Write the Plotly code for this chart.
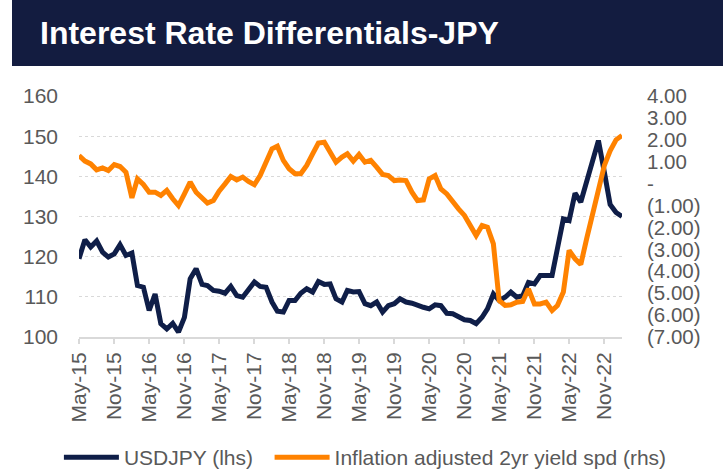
import pandas as pd
import plotly.graph_objects as go

# ---- data ----
start_month = "2015-05-01"
usdjpy = [119.5, 124.2, 122.4, 123.9, 121.1, 119.9, 120.7, 123.0, 120.3, 120.9,
          112.8, 112.4, 106.6, 110.7, 103.3, 102.0, 103.4, 101.2, 104.9, 114.5,
          117.0, 113.1, 112.8, 111.6, 111.4, 110.9, 112.6, 110.3, 109.9, 112.0,
          113.7, 112.6, 112.4, 108.7, 106.4, 106.2, 109.1, 109.1, 110.9, 112.0,
          111.2, 113.8, 113.1, 113.2, 109.5, 108.7, 111.6, 111.2, 111.3, 108.3,
          107.8, 108.7, 106.2, 107.8,
          108.3, 109.5, 108.7, 108.4, 107.8, 107.4, 107.0, 108.0, 107.8, 105.9,
          105.8, 104.9, 104.3, 104.1, 103.3, 104.9, 107.0, 110.7, 109.1, 109.9,
          111.2, 109.9, 110.3, 113.6, 113.2, 115.3, 115.3, 115.3, 122.0, 129.4,
          129.0, 135.8, 133.6, 139.0, 144.8, 148.9, 141.0, 133.0, 131.0, 130.0]
spread = [1.28, 1.03, 0.90, 0.63, 0.72, 0.60, 0.87, 0.78, 0.52, -0.65,
          0.22, -0.04, -0.39, -0.39, -0.54, -0.31, -0.69, -1.00, -0.47, 0.07,
          -0.39, -0.69, -0.89, -0.77, -0.34, -0.01, 0.33, 0.17, 0.30, 0.10,
          -0.05, 0.37, 0.98, 1.59, 1.71, 1.06, 0.68, 0.45, 0.45, 0.83,
          1.36, 1.85, 1.89, 1.44, 0.98, 1.21, 1.36, 1.03, 1.33, 0.98,
          1.06, 0.75, 0.42, 0.37,
          0.14, 0.17, 0.14, -0.39, -0.77, -0.74, 0.22, 0.37, -0.24, -0.47,
          -0.85, -1.15, -1.45, -1.91, -2.37, -1.91, -1.99, -2.75, -5.33, -5.56,
          -5.53, -5.41, -5.38, -4.80, -5.49, -5.49, -5.41, -5.79, -5.56, -4.95,
          -3.05, -3.43, -3.69, -2.50, -1.30, -0.20, 0.83, 1.50, 2.00, 2.20]
dates = pd.date_range(start_month, periods=len(usdjpy), freq="MS")

x_tick_dates = pd.date_range("2015-05-01", "2022-11-01", freq="6MS")
x_tick_labels = [d.strftime("%b-%y") for d in x_tick_dates]
left_ticks = [100, 110, 120, 130, 140, 150, 160]
right_ticks = list(range(-7, 5))
right_labels = [("-" if v == 0 else (f"({abs(v):.2f})" if v < 0 else f"{v:.2f}")) for v in right_ticks]

title_text = "Interest Rate Differentials-JPY"
name_usdjpy = "USDJPY (lhs)"
name_spread = "Inflation adjusted 2yr yield spd (rhs)"

NAVY = "#131c40"
ORANGE = "#ff8200"
GRAY = "#595959"
FONT = "Liberation Sans, Arial, sans-serif"
TICK = 21

fig = go.Figure()
fig.add_trace(go.Scatter(x=dates, y=usdjpy, name=name_usdjpy, mode="lines",
                         line=dict(color="#0f1e48", width=5), yaxis="y",
                         legend="legend"))
fig.add_trace(go.Scatter(x=dates, y=spread, name=name_spread, mode="lines",
                         line=dict(color=ORANGE, width=5), yaxis="y2",
                         legend="legend2"))

legend_common = dict(orientation="h", y=-0.50, yanchor="middle", xanchor="left",
                     font=dict(size=21, color=GRAY), bgcolor="rgba(0,0,0,0)",
                     itemwidth=55)

fig.update_layout(
    width=723, height=472,
    margin=dict(l=79, r=101, t=96, b=135, autoexpand=False),
    paper_bgcolor="white", plot_bgcolor="white",
    font=dict(family=FONT, size=TICK, color=GRAY),
    showlegend=True,
    legend=dict(x=-0.037, **legend_common),
    legend2=dict(x=0.351, **legend_common),
    title=dict(text=title_text, x=40/723, xanchor="left", y=1-33/472, yanchor="middle",
               font=dict(family=FONT, size=32, color="white", weight="bold")),
    xaxis=dict(type="date", range=[dates[0], dates[-1]],
               tickvals=x_tick_dates, ticktext=x_tick_labels, tickangle=-90,
               showgrid=False, showline=True, linecolor="#d9d9d9", linewidth=2,
               ticks="outside", ticklen=5, tickcolor="#d9d9d9", tickwidth=2,
               tickfont=dict(size=TICK, color=GRAY), zeroline=False),
    yaxis=dict(range=[100, 160], tickvals=left_ticks, showgrid=True,
               gridcolor="#d9d9d9", griddash="dot", gridwidth=1,
               zeroline=False, showline=False, ticks="",
               ticklabelstandoff=20, tickfont=dict(size=TICK, color=GRAY)),
    yaxis2=dict(range=[-7, 4], tickvals=right_ticks, ticktext=right_labels,
                overlaying="y", side="right", showgrid=False, zeroline=False,
                showline=False, ticks="", ticklabelstandoff=24,
                tickfont=dict(size=20.5, color=GRAY)),
    shapes=[dict(type="rect", xref="paper", yref="paper",
                 x0=(12-79)/543, x1=(723-79)/543, y0=(337-66)/241, y1=(337+5)/241,
                 fillcolor=NAVY, line=dict(width=0), layer="below")],
)

fig.write_html("out.html", config={"displayModeBar": False},
               post_script="document.body.style.margin='0px';document.body.style.overflow='hidden';")
